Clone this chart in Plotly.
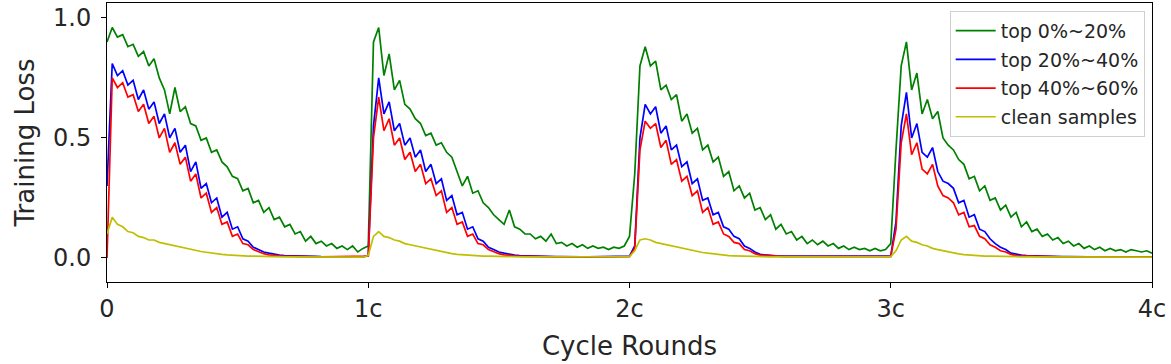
import numpy as np
import plotly.graph_objects as go

# sampled every 0.02 cycle, 0 .. 4c
x = np.linspace(0, 4, 201)

top_0_20 = [
    0.90, 0.96, 0.92, 0.93, 0.88, 0.89, 0.84, 0.86, 0.80, 0.83,
    0.75, 0.70, 0.60, 0.71, 0.61, 0.63, 0.56, 0.55, 0.49, 0.50,
    0.44, 0.45, 0.40, 0.38, 0.34, 0.33, 0.28, 0.29, 0.23, 0.24,
    0.19, 0.21, 0.16, 0.17, 0.13, 0.14, 0.10, 0.11, 0.07, 0.09,
    0.06, 0.07, 0.05, 0.06, 0.04, 0.05, 0.035, 0.05, 0.025, 0.04,
    0.05, 0.90, 0.96, 0.76, 0.85, 0.70, 0.74, 0.64, 0.62, 0.58,
    0.56, 0.51, 0.52, 0.47, 0.48, 0.44, 0.42, 0.36, 0.30, 0.34,
    0.27, 0.28, 0.23, 0.21, 0.18, 0.16, 0.14, 0.20, 0.13, 0.12,
    0.10, 0.10, 0.08, 0.09, 0.07, 0.10, 0.06, 0.065, 0.05, 0.06,
    0.045, 0.055, 0.04, 0.05, 0.04, 0.045, 0.035, 0.045, 0.04, 0.05,
    0.09, 0.35, 0.80, 0.88, 0.80, 0.82, 0.70, 0.72, 0.66, 0.68,
    0.57, 0.60, 0.52, 0.54, 0.45, 0.47, 0.40, 0.42, 0.34, 0.36,
    0.28, 0.30, 0.25, 0.27, 0.20, 0.21, 0.16, 0.18, 0.12, 0.14,
    0.10, 0.11, 0.075, 0.09, 0.06, 0.075, 0.055, 0.07, 0.05, 0.06,
    0.04, 0.05, 0.035, 0.045, 0.035, 0.04, 0.03, 0.04, 0.03, 0.035,
    0.06, 0.45, 0.80, 0.90, 0.70, 0.77, 0.60, 0.66, 0.58, 0.61,
    0.50, 0.47, 0.45, 0.41, 0.39, 0.33, 0.34, 0.28, 0.30, 0.24,
    0.25, 0.20, 0.22, 0.17, 0.19, 0.13, 0.15, 0.11, 0.12, 0.09,
    0.10, 0.075, 0.085, 0.06, 0.07, 0.05, 0.06, 0.04, 0.05, 0.035,
    0.045, 0.03, 0.04, 0.03, 0.035, 0.025, 0.035, 0.03, 0.025, 0.03,
    0.02,
]

top_20_40 = [
    0.30, 0.81, 0.76, 0.78, 0.72, 0.74, 0.66, 0.70, 0.62, 0.65,
    0.56, 0.60, 0.50, 0.54, 0.44, 0.47, 0.36, 0.40, 0.29, 0.31,
    0.23, 0.25, 0.17, 0.19, 0.12, 0.13, 0.08, 0.07, 0.045, 0.035,
    0.025, 0.02, 0.015, 0.012, 0.01, 0.01, 0.009, 0.008, 0.008, 0.007,
    0.007, 0.006, 0.006, 0.006, 0.005, 0.005, 0.005, 0.005, 0.005, 0.005,
    0.01, 0.55, 0.75, 0.60, 0.65, 0.53, 0.56, 0.47, 0.50, 0.42,
    0.45, 0.36, 0.39, 0.31, 0.33, 0.24, 0.26, 0.18, 0.19, 0.12,
    0.13, 0.08, 0.07, 0.045, 0.035, 0.025, 0.02, 0.015, 0.012, 0.01,
    0.009, 0.008, 0.008, 0.007, 0.007, 0.006, 0.006, 0.006, 0.005, 0.005,
    0.005, 0.005, 0.005, 0.005, 0.005, 0.005, 0.005, 0.005, 0.005, 0.005,
    0.008, 0.05, 0.50, 0.64, 0.60, 0.63, 0.52, 0.55, 0.45, 0.47,
    0.38, 0.40, 0.31, 0.33, 0.24, 0.25, 0.18, 0.19, 0.13, 0.12,
    0.09, 0.08, 0.05, 0.04, 0.025, 0.015, 0.012, 0.01, 0.009, 0.008,
    0.008, 0.007, 0.007, 0.006, 0.006, 0.006, 0.005, 0.005, 0.005, 0.005,
    0.005, 0.005, 0.005, 0.005, 0.005, 0.005, 0.005, 0.005, 0.005, 0.005,
    0.008, 0.15, 0.55, 0.69, 0.50, 0.56, 0.44, 0.42, 0.46, 0.36,
    0.32, 0.31, 0.29, 0.23, 0.24, 0.17, 0.18, 0.12, 0.11, 0.08,
    0.06, 0.045, 0.035, 0.02, 0.015, 0.012, 0.01, 0.009, 0.008, 0.008,
    0.007, 0.007, 0.006, 0.006, 0.006, 0.005, 0.005, 0.005, 0.005, 0.005,
    0.005, 0.005, 0.005, 0.005, 0.005, 0.005, 0.005, 0.005, 0.005, 0.005,
    0.005,
]

top_40_60 = [
    0.00, 0.75, 0.71, 0.73, 0.67, 0.68, 0.61, 0.64, 0.56, 0.59,
    0.50, 0.54, 0.44, 0.48, 0.39, 0.42, 0.32, 0.35, 0.25, 0.27,
    0.19, 0.21, 0.14, 0.15, 0.09, 0.10, 0.06, 0.055, 0.035, 0.025,
    0.018, 0.013, 0.01, 0.009, 0.008, 0.007, 0.007, 0.006, 0.006, 0.005,
    0.005, 0.005, 0.005, 0.005, 0.005, 0.005, 0.005, 0.005, 0.005, 0.005,
    0.008, 0.50, 0.67, 0.53, 0.58, 0.47, 0.50, 0.41, 0.44, 0.36,
    0.39, 0.31, 0.33, 0.26, 0.28, 0.19, 0.21, 0.14, 0.15, 0.09,
    0.10, 0.06, 0.055, 0.035, 0.025, 0.018, 0.013, 0.01, 0.009, 0.008,
    0.007, 0.007, 0.006, 0.006, 0.005, 0.005, 0.005, 0.005, 0.004, 0.004,
    0.004, 0.004, 0.004, 0.004, 0.004, 0.004, 0.004, 0.004, 0.004, 0.004,
    0.006, 0.04, 0.45, 0.57, 0.54, 0.56, 0.46, 0.49, 0.39, 0.41,
    0.32, 0.34, 0.26, 0.28, 0.19, 0.21, 0.14, 0.15, 0.10, 0.09,
    0.065, 0.06, 0.035, 0.03, 0.018, 0.012, 0.01, 0.008, 0.007, 0.007,
    0.006, 0.006, 0.005, 0.005, 0.005, 0.004, 0.004, 0.004, 0.004, 0.004,
    0.004, 0.004, 0.004, 0.004, 0.004, 0.004, 0.004, 0.004, 0.004, 0.004,
    0.006, 0.12, 0.48, 0.60, 0.43, 0.48, 0.37, 0.35, 0.39, 0.30,
    0.26, 0.25, 0.23, 0.18, 0.19, 0.13, 0.135, 0.09, 0.08, 0.055,
    0.045, 0.03, 0.025, 0.015, 0.01, 0.009, 0.008, 0.007, 0.007, 0.006,
    0.006, 0.005, 0.005, 0.005, 0.005, 0.004, 0.004, 0.004, 0.004, 0.004,
    0.004, 0.004, 0.004, 0.004, 0.004, 0.004, 0.004, 0.004, 0.004, 0.004,
    0.004,
]

clean = [
    0.10, 0.17, 0.14, 0.13, 0.11, 0.105, 0.09, 0.085, 0.075, 0.075,
    0.065, 0.06, 0.055, 0.05, 0.045, 0.04, 0.035, 0.03, 0.027, 0.024,
    0.02, 0.018, 0.015, 0.013, 0.011, 0.01, 0.009, 0.008, 0.008, 0.007,
    0.007, 0.006, 0.006, 0.006, 0.005, 0.005, 0.005, 0.005, 0.004, 0.004,
    0.004, 0.004, 0.004, 0.004, 0.004, 0.004, 0.004, 0.004, 0.004, 0.004,
    0.01, 0.09, 0.11, 0.09, 0.085, 0.075, 0.07, 0.06, 0.055, 0.05,
    0.045, 0.04, 0.035, 0.03, 0.025, 0.022, 0.018, 0.015, 0.013, 0.011,
    0.01, 0.009, 0.008, 0.008, 0.007, 0.007, 0.006, 0.006, 0.005, 0.005,
    0.005, 0.005, 0.004, 0.004, 0.004, 0.004, 0.004, 0.004, 0.004, 0.004,
    0.004, 0.004, 0.004, 0.004, 0.004, 0.004, 0.004, 0.004, 0.004, 0.004,
    0.006, 0.03, 0.075, 0.08, 0.075, 0.065, 0.06, 0.055, 0.05, 0.045,
    0.04, 0.035, 0.03, 0.027, 0.023, 0.02, 0.017, 0.014, 0.012, 0.01,
    0.009, 0.008, 0.008, 0.007, 0.007, 0.006, 0.006, 0.005, 0.005, 0.005,
    0.005, 0.004, 0.004, 0.004, 0.004, 0.004, 0.004, 0.004, 0.004, 0.004,
    0.004, 0.004, 0.004, 0.004, 0.004, 0.004, 0.004, 0.004, 0.004, 0.004,
    0.006, 0.03, 0.075, 0.09, 0.07, 0.065, 0.055, 0.05, 0.04, 0.035,
    0.03, 0.025, 0.02, 0.017, 0.014, 0.012, 0.01, 0.009, 0.008, 0.008,
    0.007, 0.007, 0.006, 0.006, 0.005, 0.005, 0.005, 0.005, 0.004, 0.004,
    0.004, 0.004, 0.004, 0.004, 0.004, 0.004, 0.004, 0.004, 0.004, 0.004,
    0.004, 0.004, 0.004, 0.004, 0.004, 0.004, 0.004, 0.004, 0.004, 0.004,
    0.004,
]

x_tickvals = [0, 1, 2, 3, 4]
x_ticktext = ["0", "1c", "2c", "3c", "4c"]
y_tickvals = [0.0, 0.5, 1.0]

series = [
    ("top 0%~20%", top_0_20, "#008000"),
    ("top 20%~40%", top_20_40, "#0000ff"),
    ("top 40%~60%", top_40_60, "#ff0000"),
    ("clean samples", clean, "#bfbf00"),
]

fig = go.Figure()
for k, (name, y, col) in enumerate(series):
    fig.add_trace(go.Scatter(x=x, y=y, name=name, mode="lines",
                             legendgroup=str(k),
                             line=dict(color=col, width=1.7)))

fig.update_layout(
    width=1171, height=364,
    margin=dict(l=107, r=19, t=3, b=82),
    plot_bgcolor="white", paper_bgcolor="white",
    font=dict(family="DejaVu Sans", size=24, color="#262626"),
    showlegend=True,
    legend=dict(x=0.993, y=0.972, xanchor="right", yanchor="top",
                bgcolor="white", bordercolor="#d0d0d0", borderwidth=1,
                font=dict(size=19), tracegroupgap=1, itemwidth=40),
)
fig.update_xaxes(range=[0, 4], tickvals=x_tickvals, ticktext=x_ticktext,
                 showgrid=False, zeroline=False, showline=True, mirror=True,
                 linecolor="black", linewidth=1, ticks="outside", ticklen=5,
                 tickcolor="black", automargin=False,
                 title=dict(text="Cycle Rounds", font=dict(size=26), standoff=15))
fig.update_yaxes(range=[-0.1, 1.062], tickvals=y_tickvals, tickformat=".1f",
                 showgrid=False, zeroline=False, showline=True, mirror=True,
                 linecolor="black", linewidth=1, ticks="outside", ticklen=5,
                 tickcolor="black", automargin=False, ticklabelstandoff=5,
                 title=dict(text="Training Loss", font=dict(size=26), standoff=10))

# page body has a default 8px margin; drop it so the figure sits at the corner
fig.write_html("out.html", config={"displayModeBar": False},
               post_script="document.body.style.margin='0';")
